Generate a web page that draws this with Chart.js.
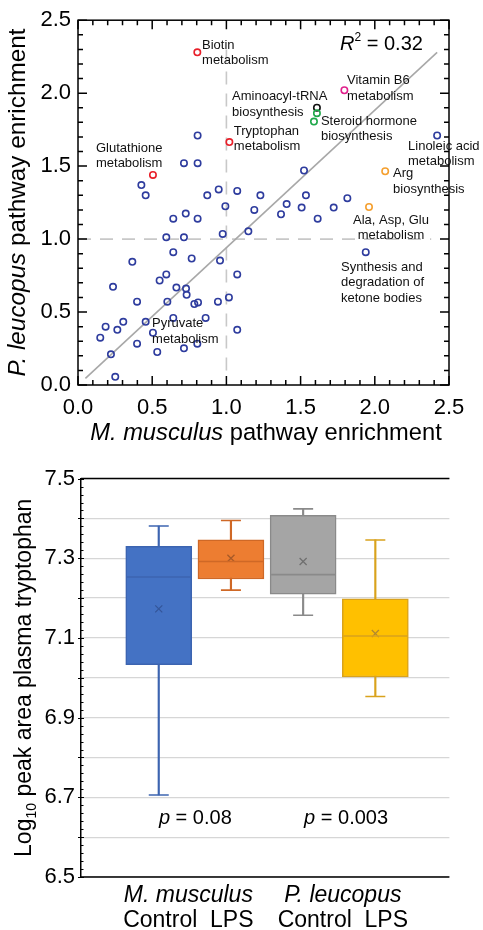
<!DOCTYPE html>
<html>
<head>
<meta charset="utf-8">
<script src="https://cdn.jsdelivr.net/npm/chart.js@4.4.0/dist/chart.umd.min.js"></script>
<style>
  html, body { margin: 0; padding: 0; background: #fff; }
  body { width: 483px; height: 930px; position: relative; overflow: hidden; }
  #scatterChart { position: absolute; left: 0; top: 0; }
  #boxChart { position: absolute; left: 0; top: 445px; }
</style>
</head>
<body>
<canvas id="scatterChart" width="483" height="445"></canvas>
<canvas id="boxChart" width="483" height="485"></canvas>
<script>
const FONT = "'Liberation Sans', Arial, sans-serif";
Chart.defaults.font.family = FONT;
Chart.defaults.color = '#000';

// ---- top chart: pathway enrichment (x = M. musculus, y = P. leucopus)
const otherX = [0.806, 0.714, 0.806, 0.427, 0.456, 0.871, 0.948, 1.073, 2.42, 1.523,
  1.229, 1.536, 1.815, 0.993, 0.642, 0.726, 0.806, 0.595, 0.714, 0.975,
  1.148, 0.642, 0.766, 0.957, 0.366, 0.595, 0.55, 1.073, 0.236, 0.663,
  0.728, 0.732, 1.017, 0.398, 0.602, 0.784, 0.809, 0.943, 0.642, 0.86,
  0.456, 0.305, 0.186, 0.265, 0.15, 0.505, 1.073, 0.398, 0.804, 0.714,
  0.534, 0.222, 0.251, 1.188, 1.406, 1.368, 1.507, 1.615, 1.723, 1.939];
const otherY = [1.71, 1.52, 1.52, 1.37, 1.30, 1.30, 1.34, 1.33, 1.71, 1.47,
  1.30, 1.30, 1.28, 1.225, 1.14, 1.175, 1.14, 1.012, 1.012, 1.035,
  1.053, 0.91, 0.867, 0.853, 0.844, 0.758, 0.716, 0.758, 0.673, 0.668,
  0.661, 0.618, 0.60, 0.571, 0.571, 0.555, 0.566, 0.571, 0.46, 0.46,
  0.433, 0.433, 0.40, 0.378, 0.324, 0.358, 0.378, 0.283, 0.283, 0.251,
  0.226, 0.21, 0.056, 1.20, 1.24, 1.17, 1.216, 1.14, 1.216, 0.91];
const redX = [0.804, 1.02, 0.505];    // biotin, tryptophan, glutathione
const redY = [2.28, 1.665, 1.44];
const pinkX = [1.795];                // vitamin B6
const pinkY = [2.02];
const greenX = [1.61, 1.59];          // steroid hormone biosynthesis
const greenY = [1.863, 1.805];
const blackX = [1.61];                // aminoacyl-tRNA biosynthesis
const blackY = [1.90];
const orangeX = [2.07, 1.961];        // arg biosynthesis, ala/asp/glu
const orangeY = [1.465, 1.22];
const fitX = [0.05, 2.42];
const fitY = [0.045, 2.28];
const rSquared = '0.32';
const enrichTicks = [0, 0.5, 1.0, 1.5, 2.0, 2.5];

// ---- bottom chart: log10 peak area plasma tryptophan
const species = ['M. musculus', 'P. leucopus'];
const treatments = ['Control', 'LPS'];
const boxMin = [6.706, 7.220, 7.157, 6.953];
const boxQ1 = [7.033, 7.248, 7.210, 7.002];
const boxMedian = [7.253, 7.292, 7.259, 7.105];
const boxQ3 = [7.330, 7.346, 7.408, 7.198];
const boxMax = [7.381, 7.395, 7.424, 7.346];
const boxMean = [7.173, 7.300, 7.292, 7.111];
const pValues = ['0.08', '0.003'];

const toPts = (xs, ys) => xs.map((x, i) => ({x: x, y: ys[i]}));

// draws a row of text pieces (mixed italic / sub / superscript) centred on cx, cy
function drawParts(ctx, parts, cx, cy, angle, align) {
  ctx.save();
  ctx.translate(cx, cy);
  ctx.rotate(angle || 0);
  ctx.textBaseline = 'middle';
  ctx.textAlign = 'left';
  let total = 0;
  parts.forEach(p => {
    ctx.font = (p.italic ? 'italic ' : '') + p.size + 'px ' + FONT;
    p.w = ctx.measureText(p.text).width;
    total += p.w;
  });
  let x = align === 'left' ? 0 : -total / 2;
  parts.forEach(p => {
    ctx.font = (p.italic ? 'italic ' : '') + p.size + 'px ' + FONT;
    ctx.fillStyle = '#000';
    ctx.fillText(p.text, x, p.dy || 0);
    x += p.w;
  });
  ctx.restore();
}

const notes = [
  {lines: ['Biotin', 'metabolism'], x: 0.836, y: 2.33},
  {lines: ['Aminoacyl-tRNA', 'biosynthesis'], x: 1.038, y: 1.977},
  {lines: ['Tryptophan', 'metabolism'], x: 1.05, y: 1.739},
  {lines: ['Steroid hormone', 'biosynthesis'], x: 1.637, y: 1.807},
  {lines: ['Vitamin B6', 'metabolism'], x: 1.813, y: 2.086},
  {lines: ['Linoleic acid', 'metabolism'], x: 2.224, y: 1.637},
  {lines: ['Arg', 'biosynthesis'], x: 2.123, y: 1.447},
  {lines: ['Ala, Asp, Glu', 'metabolism'], x: 2.109, y: 1.128, center: true},
  {lines: ['Synthesis and', 'degradation of', 'ketone bodies'], x: 1.772, y: 0.808},
  {lines: ['Glutathione', 'metabolism'], x: 0.121, y: 1.624},
  {lines: ['Pyruvate', 'metabolism'], x: 0.499, y: 0.421}
];

const scatterDecor = {
  id: 'scatterDecor',
  afterDatasetsDraw(chart) {
    const {ctx, chartArea: a, scales: {x, y}} = chart;
    ctx.save();
    ctx.strokeStyle = '#000';
    ctx.lineWidth = 1.5;
    ctx.strokeRect(a.left, a.top, a.right - a.left, a.bottom - a.top);
    ctx.beginPath();
    for (let i = 0; i <= 25; i++) {
      const len = i % 5 === 0 ? 9 : 5;
      const px = x.getPixelForValue(i / 10), py = y.getPixelForValue(i / 10);
      ctx.moveTo(px, a.bottom); ctx.lineTo(px, a.bottom - len);
      ctx.moveTo(px, a.top); ctx.lineTo(px, a.top + len);
      ctx.moveTo(a.left, py); ctx.lineTo(a.left + len, py);
      ctx.moveTo(a.right, py); ctx.lineTo(a.right - len, py);
    }
    ctx.stroke();

    ctx.fillStyle = '#111';
    ctx.font = '13px ' + FONT;
    ctx.textBaseline = 'middle';
    notes.forEach(n => {
      ctx.textAlign = n.center ? 'center' : 'left';
      const px = x.getPixelForValue(n.x), py = y.getPixelForValue(n.y);
      n.lines.forEach((t, k) => ctx.fillText(t, px, py + k * 15.5));
    });
    ctx.restore();

    drawParts(ctx, [
      {text: 'R', italic: true, size: 20},
      {text: '2', size: 12, dy: -6},
      {text: ' = ' + rSquared, size: 20}
    ], x.getPixelForValue(2.045), y.getPixelForValue(2.337));

    drawParts(ctx, [
      {text: 'M. musculus', italic: true, size: 23.7},
      {text: ' pathway enrichment', size: 23.7}
    ], 266, 433);
    drawParts(ctx, [
      {text: 'P. leucopus', italic: true, size: 24.3},
      {text: ' pathway enrichment', size: 24.3}
    ], 18, (a.top + a.bottom) / 2, -Math.PI / 2);
  }
};

const hollow = (color) => ({
  pointRadius: 3.2,
  pointBorderWidth: 1.6,
  pointBorderColor: color,
  pointBackgroundColor: 'rgba(0,0,0,0)',
  showLine: false
});

new Chart(document.getElementById('scatterChart'), {
  type: 'scatter',
  data: {
    datasets: [
      Object.assign({data: toPts(otherX, otherY), order: 1}, hollow('#2E3C9E')),
      Object.assign({data: toPts(redX, redY), order: 1}, hollow('#E8202A')),
      Object.assign({data: toPts(pinkX, pinkY), order: 1}, hollow('#E0208C')),
      Object.assign({data: toPts(greenX, greenY), order: 1}, hollow('#1FA84A')),
      Object.assign({data: toPts(blackX, blackY), order: 1}, hollow('#111111')),
      Object.assign({data: toPts(orangeX, orangeY), order: 1}, hollow('#F5A030')),
      {type: 'line', data: toPts(fitX, fitY), borderColor: '#A8A8A8', borderWidth: 1.6,
        pointRadius: 0, order: 3},
      {type: 'line', data: [{x: 1, y: 0.1}, {x: 1, y: 2.3}], borderColor: '#C8C8C8',
        borderWidth: 1.6, borderDash: [13, 9], pointRadius: 0, order: 4},
      {type: 'line', data: [{x: 0, y: 1}, {x: 2.38, y: 1}], borderColor: '#C8C8C8',
        borderWidth: 1.6, borderDash: [13, 9], pointRadius: 0, order: 4}
    ]
  },
  options: {
    responsive: false,
    animation: false,
    layout: {padding: {left: 0, right: 34, top: 17, bottom: 0}},
    plugins: {legend: {display: false}, tooltip: {enabled: false}},
    scales: {
      x: {
        type: 'linear', min: 0, max: 2.5,
        afterBuildTicks: s => { s.ticks = enrichTicks.map(v => ({value: v})); },
        ticks: {font: {size: 22}, padding: 10, callback: v => v.toFixed(1), autoSkip: false, maxRotation: 0},
        grid: {display: false, drawTicks: false},
        border: {display: false},
        afterFit: s => { s.height = 60; }
      },
      y: {
        type: 'linear', min: 0, max: 2.5,
        afterBuildTicks: s => { s.ticks = enrichTicks.map(v => ({value: v})); },
        ticks: {font: {size: 22}, padding: 7, callback: v => v.toFixed(1), autoSkip: false},
        grid: {display: false, drawTicks: false},
        border: {display: false},
        afterFit: s => { s.width = 78; }
      }
    }
  },
  plugins: [scatterDecor]
});

// ---- box plot
const fills = ['#4472C4', '#ED7D31', '#A5A5A5', '#FFC000'];
const edges = ['#3C64B0', '#CF6826', '#8A8A8A', '#D9A21C'];
const marks = ['#34569A', '#A85A28', '#707070', '#B08830'];
const slot = boxMin.map((v, i) => i + 1);
const capPts = [];
const capColors = [];
slot.forEach((s, i) => {
  capPts.push({x: s, y: boxMin[i]}, {x: s, y: boxMax[i]});
  capColors.push(edges[i], edges[i]);
});

const boxDecor = {
  id: 'boxDecor',
  beforeDatasetsDraw(chart) {
    const {ctx, chartArea: a, scales: {y}} = chart;
    ctx.save();
    ctx.strokeStyle = '#000';
    ctx.lineWidth = 1.5;
    ctx.beginPath();
    ctx.moveTo(a.left, a.top); ctx.lineTo(a.right, a.top);
    ctx.moveTo(a.left, a.bottom); ctx.lineTo(a.right, a.bottom);
    ctx.stroke();
    ctx.lineWidth = 1;
    ctx.beginPath();
    for (let i = 0; i <= 50; i++) {
      const py = Math.round(y.getPixelForValue(6.5 + i * 0.02)) + 0.5;
      if (i % 5 === 0) { ctx.moveTo(a.left - 3, py); ctx.lineTo(a.left + 3, py); }
      else { ctx.moveTo(a.left, py); ctx.lineTo(a.left + 2.5, py); }
    }
    ctx.stroke();
    ctx.restore();
  },
  afterDraw(chart) {
    const {ctx, chartArea: a, scales: {x, y}} = chart;
    const g0 = x.getPixelForValue(1.41), g1 = x.getPixelForValue(3.55);
    [g0, g1].forEach((gx, k) => {
      drawParts(ctx, [{text: species[k], italic: true, size: 23}], gx, a.bottom + 19);
      drawParts(ctx, [{text: treatments.join('  '), size: 23}], gx, a.bottom + 44);
    });
    [1.507, 3.595].forEach((px, k) => {
      drawParts(ctx, [
        {text: 'p', italic: true, size: 20},
        {text: ' = ' + pValues[k], size: 20}
      ], x.getPixelForValue(px), y.getPixelForValue(6.648));
    });
    drawParts(ctx, [
      {text: 'Log', size: 23},
      {text: '10', size: 14, dy: 7},
      {text: ' peak area plasma tryptophan', size: 23}
    ], 25, (a.top + a.bottom) / 2, -Math.PI / 2);
  }
};

new Chart(document.getElementById('boxChart'), {
  type: 'bar',
  data: {
    datasets: [
      {label: 'whisker', data: slot.map((s, i) => ({x: s, y: [boxMin[i], boxMax[i]]})),
        backgroundColor: edges, barThickness: 1.5, grouped: false, order: 4},
      {label: 'box', data: slot.map((s, i) => ({x: s, y: [boxQ1[i], boxQ3[i]]})),
        backgroundColor: fills, borderColor: edges, borderWidth: 1.5, borderSkipped: false,
        barThickness: 66, grouped: false, order: 3},
      {type: 'line', label: 'caps', data: capPts, showLine: false, pointStyle: 'line',
        pointRadius: 10, pointBorderWidth: 1.6, pointBorderColor: capColors, order: 2},
      {type: 'line', label: 'median', data: slot.map((s, i) => ({x: s, y: boxMedian[i]})),
        showLine: false, pointStyle: 'line', pointRadius: 32, pointBorderWidth: 1.6,
        pointBorderColor: edges, order: 1},
      {type: 'line', label: 'mean', data: slot.map((s, i) => ({x: s, y: boxMean[i]})),
        showLine: false, pointStyle: 'crossRot', pointRadius: 5, pointBorderWidth: 1.3,
        pointBorderColor: marks, order: 1}
    ]
  },
  options: {
    responsive: false,
    animation: false,
    layout: {padding: {left: 0, right: 26, top: 27, bottom: 53}},
    plugins: {legend: {display: false}, tooltip: {enabled: false}},
    scales: {
      x: {type: 'linear', min: -0.077, max: 5.026, offset: false, display: false},
      y: {
        min: 6.5, max: 7.5,
        ticks: {
          stepSize: 0.1, autoSkip: false, padding: 6, font: {size: 22},
          callback: v => (Math.round(v * 10) % 2 === 1 ? v.toFixed(1) : '')
        },
        grid: {color: '#D6D6D6', lineWidth: 1.3, drawTicks: false},
        border: {display: true, color: '#000', width: 1.5},
        afterFit: s => { s.width = 81; }
      }
    }
  },
  plugins: [boxDecor]
});
</script>
</body>
</html>
